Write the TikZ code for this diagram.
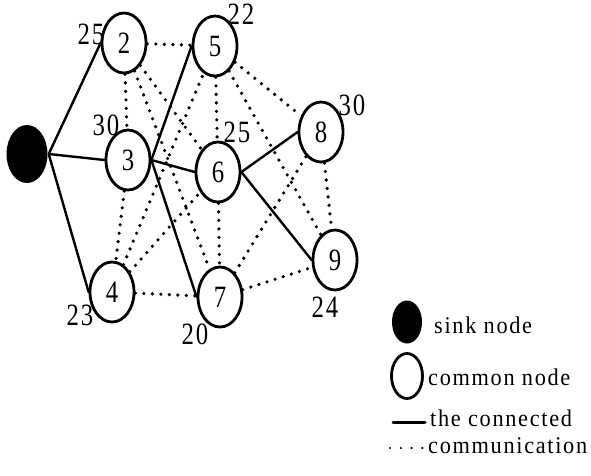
\documentclass[tikz,border=0pt]{standalone}
\usepackage{fontspec}
\setmainfont{Liberation Serif}[FakeStretch=0.8,LetterSpace=6]
\newfontfamily\legfont{Liberation Serif}[FakeStretch=0.93,LetterSpace=7]
\usetikzlibrary{shapes.geometric}

\begin{document}
\begin{tikzpicture}[x=1pt,y=-1pt,line width=2.4pt,line cap=round,line join=round,
  every node/.style={inner sep=0pt,font=\fontsize{31}{33}\selectfont},
  common/.style={ellipse,draw,line width=2.8pt,minimum width=44pt,minimum height=60pt},
  sink/.style={ellipse,fill=black,minimum width=41pt,minimum height=58pt},
  legtext/.style={anchor=base west,font=\legfont\fontsize{24}{26}\selectfont,text height=17pt,text depth=0pt},
  comm/.style={line width=3.6pt,dash pattern=on 0pt off 8.5pt}]
\useasboundingbox (0,0) rectangle (591,475);

% sensor nodes
\node[sink]   (s)  at (27,154)  {};
\node[common] (n2) at (124,43)  {2};
\node[common] (n3) at (128,160) {3};
\node[common] (n4) at (112,292) {4};
\node[common] (n5) at (215,46)  {5};
\node[common] (n6) at (218,172) {6};
\node[common] (n7) at (220,297) {7};
\node[common] (n8) at (321,132) {8};
\node[common] (n9) at (335,260) {9};

% weights
\node (w2) at (91,34)   {25};
\node (w3) at (106,125) {30};
\node (w4) at (80,315)  {23};
\node (w5) at (241,14)  {22};
\node (w6) at (237,132) {25};
\node (w7) at (195,334) {20};
\node (w8) at (352,105) {30};
\node (w9) at (325,307) {24};

% links that can communicate
\draw[comm]
    (n2) -- (n5) (n2) -- (n3) (n2) -- (n6) (n2) -- (n7)
    (n3) -- (n4) (n4) -- (n5) (n4) -- (n6) (n4) -- (n7)
    (n5) -- (n6) (n5) -- (n8) (n5) -- (n9) (n6) -- (n7)
    (n7) -- (n8) (n7) -- (n9) (n8) -- (n9);

% connected tree
\draw
    (s.east) -- (n2.west) (s.east) -- (n3.west) (s.east) -- (n4.west)
    (n3.east) -- (n5.west) (n3.east) -- (n6.west) (n3.east) -- (n7.west)
    (n6.east) -- (n8.west) (n6.east) -- (n9.west);

% legend
\node[sink,minimum width=30pt,minimum height=43pt] (ks) at (407,322) {};
\node[legtext] (ts) at (433,333) {sink node};
\node[common,minimum width=31pt,minimum height=45pt] (kc) at (407,376) {};
\node[legtext] (tc) at (427,385) {common node};
\coordinate (la) at (393,422);
\coordinate (lb) at (425,422);
\draw[line width=3pt] (la) -- (lb);
\node[legtext] (tl) at (429,426) {the connected};
\coordinate (da) at (390,448);
\coordinate (db) at (423,448);
\draw[line width=2.4pt,dash pattern=on 0pt off 10.8pt] (da) -- (db);
\node[legtext] (td) at (427,453) {communication};
\end{tikzpicture}
\end{document}
